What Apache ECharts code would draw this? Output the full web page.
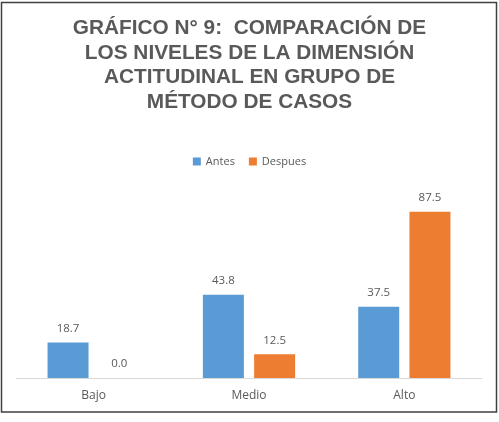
<!DOCTYPE html>
<html><head><meta charset="utf-8">
<script src="https://cdn.jsdelivr.net/npm/echarts@6/dist/echarts.min.js"></script>
<style>html,body{margin:0;padding:0;background:#fff}#c{width:499px;height:422px}</style>
</head><body><div id="c"></div>
<script>
const categories = ['Bajo', 'Medio', 'Alto'];
const antes = [18.7, 43.8, 37.5];
const despues = [0.0, 12.5, 87.5];
const seriesNames = ['Antes', 'Despues'];
const titleText = 'GRÁFICO N° 9:  COMPARACIÓN DE\nLOS NIVELES DE LA DIMENSIÓN\nACTITUDINAL EN GRUPO DE\nMÉTODO DE CASOS';

const chart = echarts.init(document.getElementById('c'));
const lbl = {show: true, position: 'top', distance: 8, color: '#595959', fontFamily: 'Open Sans', fontSize: 11.5,
  formatter: p => p.value.toFixed(1)};
chart.setOption({
  animation: false,
  title: {text: titleText, left: 'center', top: 11,
    textStyle: {fontFamily: 'Liberation Sans', fontWeight: 'bold', fontSize: 20.8, color: '#595959', lineHeight: 24.6}},
  legend: {data: seriesNames, top: 151, left: 'center', itemWidth: 8, itemHeight: 8, itemGap: 14,
    icon: 'rect', textStyle: {fontFamily: 'Open Sans', fontSize: 11, color: '#595959'}},
  grid: {left: 16, right: 17, top: 188, bottom: 44},
  xAxis: {type: 'category', data: categories,
    axisLine: {lineStyle: {color: '#d9d9d9'}}, axisTick: {show: false},
    axisLabel: {color: '#595959', fontFamily: 'Open Sans', fontSize: 12, margin: 12}},
  yAxis: {type: 'value', min: 0, max: 100, show: false, splitLine: {show: false}},
  series: [
    {name: seriesNames[0], type: 'bar', data: antes, itemStyle: {color: '#5B9BD5'},
      barWidth: 41, barGap: '25%', label: lbl},
    {name: seriesNames[1], type: 'bar', data: despues, itemStyle: {color: '#ED7D31'},
      barWidth: 41, barGap: '25%', label: lbl}
  ],
  graphic: [{type: 'rect', shape: {x: 1.5, y: 2.5, width: 495, height: 409.5},
    style: {fill: 'none', stroke: '#404040', lineWidth: 1.5}, silent: true}]
});
</script></body></html>
